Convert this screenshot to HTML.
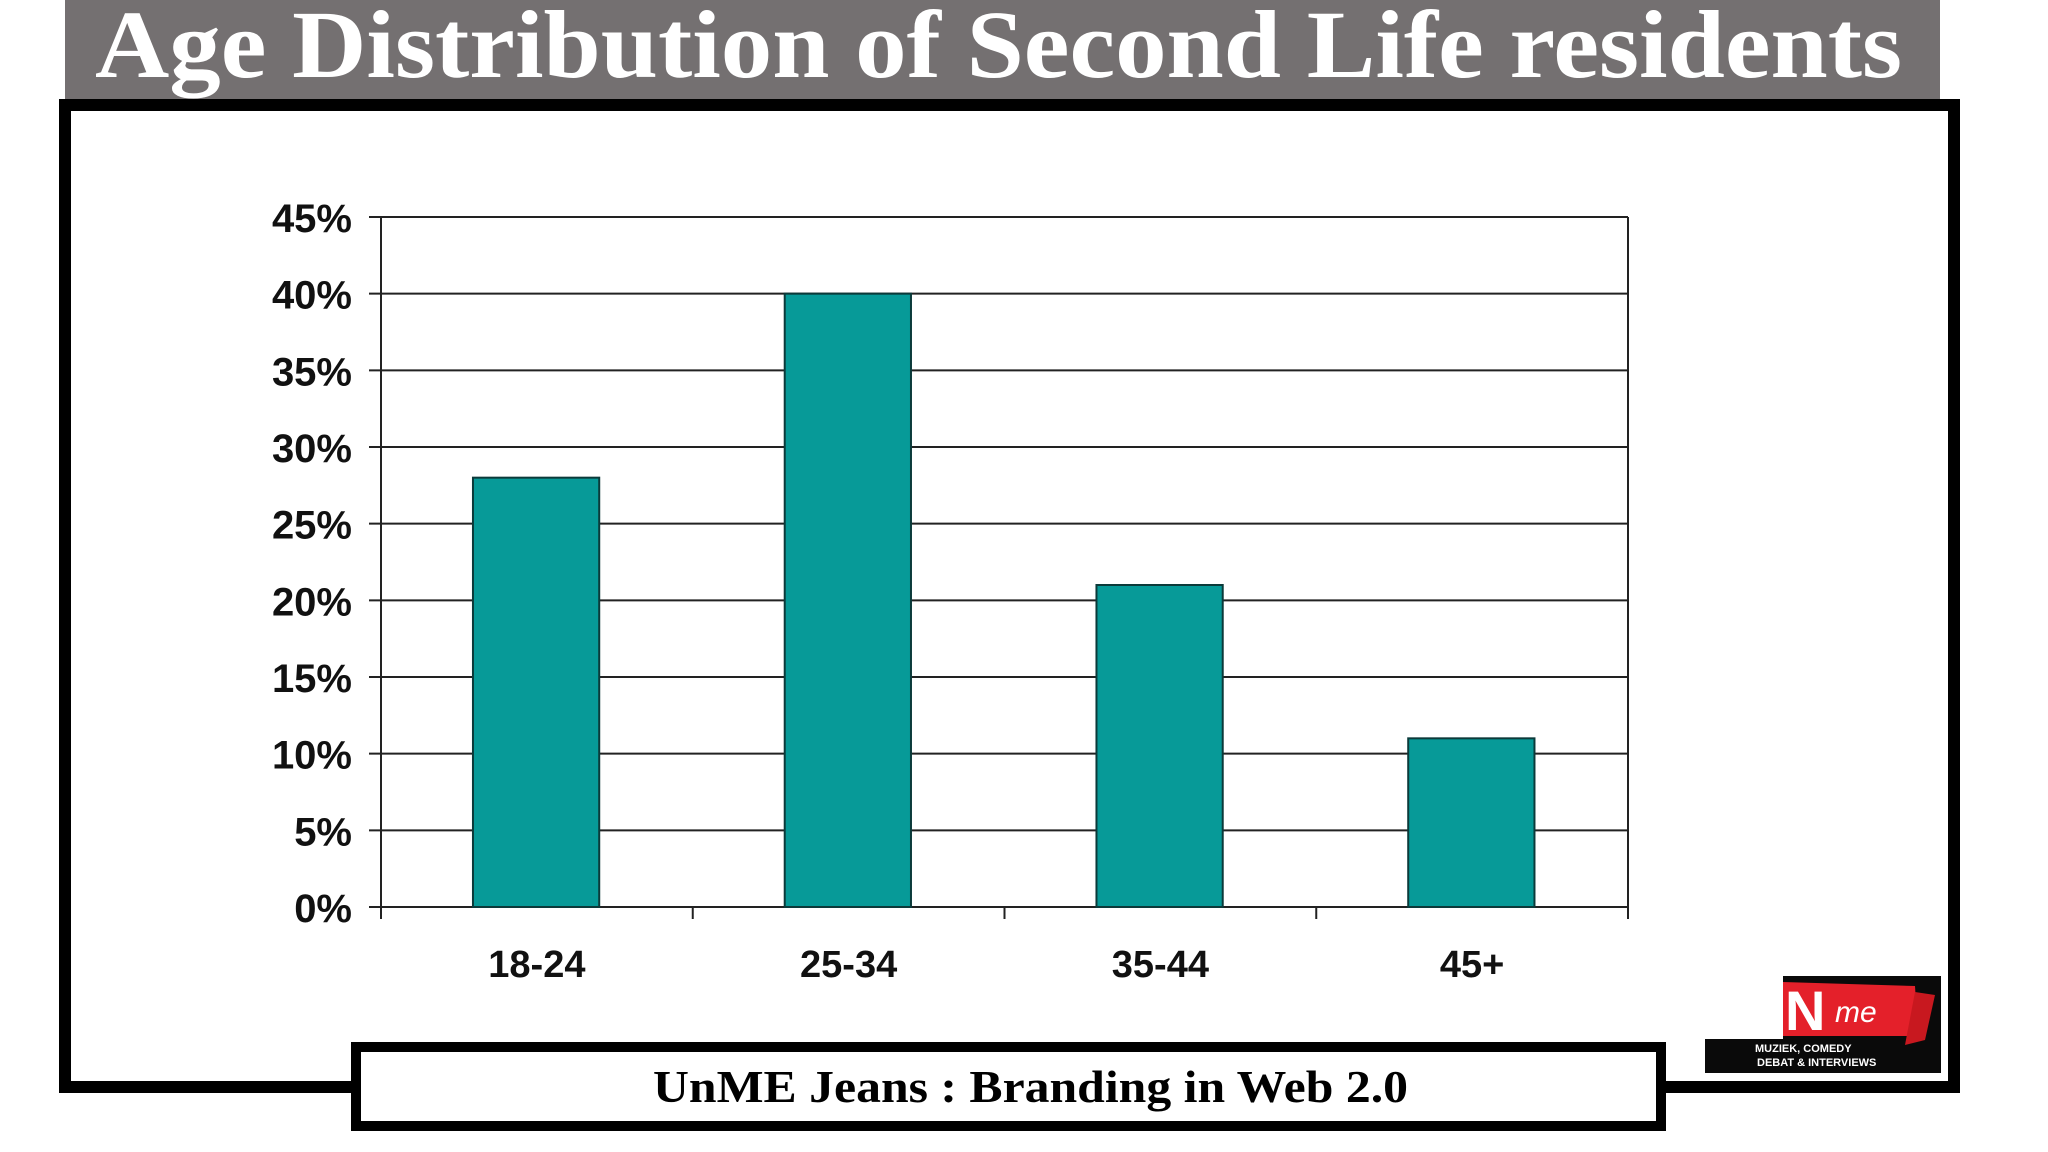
<!DOCTYPE html>
<html><head><meta charset="utf-8"><style>
html,body{margin:0;padding:0;background:#fff;}
svg{display:block;}
</style></head><body>
<svg id="c" width="2048" height="1152" viewBox="0 0 2048 1152" xmlns="http://www.w3.org/2000/svg">
<rect x="65" y="0" width="1875" height="99" fill="#747071"/>
<text x="95" y="77" font-family="Liberation Serif, serif" font-weight="bold" font-size="96" fill="#fff" textLength="1807" lengthAdjust="spacingAndGlyphs">Age Distribution of Second Life residents</text>
<rect x="65" y="105" width="1889" height="982" fill="none" stroke="#000" stroke-width="12"/>
<g id="plot"></g>
<g>
<rect x="1705" y="976" width="236" height="97" fill="#0a0a0a"/>
<rect x="1705" y="976" width="78" height="63" fill="#fff"/>
<polygon points="1783,982 1915,986 1918,1036 1783,1036" fill="#e4202a"/>
<polygon points="1915,992 1935,995 1925,1040 1905,1045" fill="#c8181f"/>
<text x="1785" y="1030" font-family="Liberation Sans, sans-serif" font-weight="bold" font-size="56" fill="#fff">N</text>
<text x="1835" y="1022" font-family="Liberation Sans, sans-serif" font-size="30" fill="#fff" font-style="italic">me</text>
<text x="1755" y="1052" font-family="Liberation Sans, sans-serif" font-weight="bold" font-size="11" fill="#fff">MUZIEK, COMEDY</text>
<text x="1757" y="1066" font-family="Liberation Sans, sans-serif" font-weight="bold" font-size="11" fill="#fff">DEBAT &amp; INTERVIEWS</text>
</g>
<rect x="356" y="1047" width="1305" height="79" fill="#fff" stroke="#000" stroke-width="10"/>
<text x="653" y="1102" font-family="Liberation Serif, serif" font-weight="bold" font-size="46" fill="#000" textLength="755" lengthAdjust="spacingAndGlyphs">UnME Jeans : Branding in Web 2.0</text>
</svg>
<script>
const categories = ["18-24","25-34","35-44","45+"];
const values = [28,40,21,11];
const yTicks = [0,5,10,15,20,25,30,35,40,45];
const yTickLabels = ["0%","5%","10%","15%","20%","25%","30%","35%","40%","45%"];

const NS="http://www.w3.org/2000/svg";
const g=document.getElementById('plot');
const X0=381,X1=1628,Y0=907,Y1=217,YMAX=45;
const y=v=>Y0-(v/YMAX)*(Y0-Y1);
const bw=(X1-X0)/categories.length;
const x=i=>X0+i*bw;
function mk(tag,attrs){const e=document.createElementNS(NS,tag);for(const k in attrs)e.setAttribute(k,attrs[k]);g.appendChild(e);return e;}
yTicks.forEach((t,i)=>{
  const l=mk('line',{x1:369,x2:X1,y1:y(t),y2:y(t),stroke:'#222','stroke-width':2});
  
  
  const tx=mk('text',{x:352,y:y(t)+15,'text-anchor':'end','font-family':'Liberation Sans, sans-serif','font-weight':'bold','font-size':40,fill:'#111'});
  tx.textContent=yTickLabels[i];
  
  
});
const ax=mk('line',{x1:X0,x2:X0,y1:Y1,y2:Y0+12,stroke:'#222','stroke-width':2});


const rb=mk('line',{x1:X1,x2:X1,y1:Y1,y2:Y0+12,stroke:'#222','stroke-width':2});


for(let i=1;i<categories.length;i++){
  const t=mk('line',{x1:x(i),x2:x(i),y1:Y0,y2:Y0+12,stroke:'#222','stroke-width':2});
  
  
}
categories.forEach((c,i)=>{
  const r=mk('rect',{x:x(i)+bw*0.295,y:y(values[i]),width:bw*0.405,height:Y0-y(values[i]),fill:'#079a98',stroke:'#0b3a3a','stroke-width':2});
  
  
  const tx=mk('text',{x:x(i)+bw*0.5,y:977,'text-anchor':'middle','font-family':'Liberation Sans, sans-serif','font-weight':'bold','font-size':38,fill:'#111'});
  tx.textContent=c;
  
  
});
</script>
</body></html>
